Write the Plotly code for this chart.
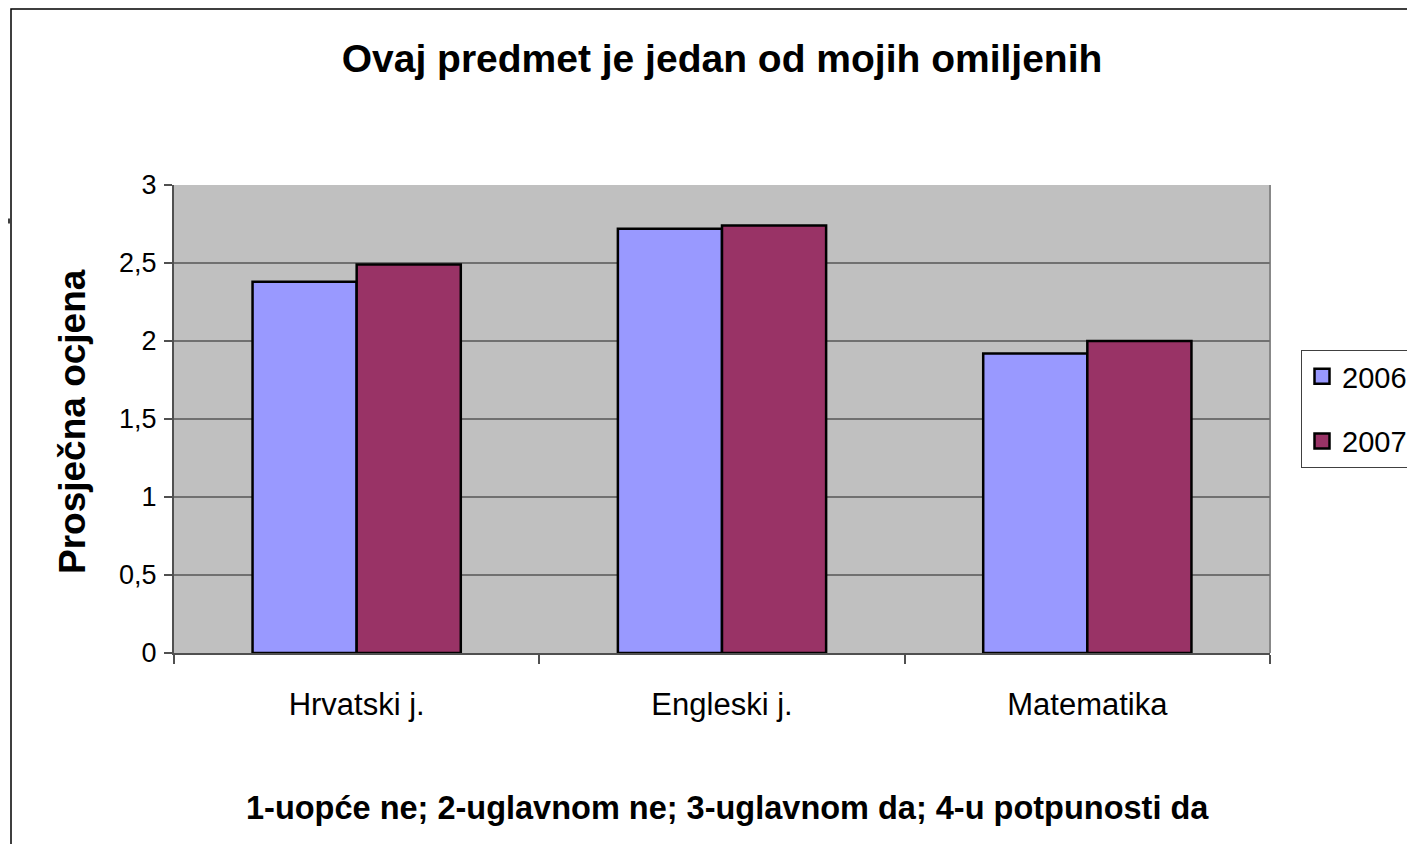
import plotly.graph_objects as go

categories = ["Hrvatski j.", "Engleski j.", "Matematika"]
series_names = ["2006", "2007"]
values_2006 = [2.38, 2.72, 1.92]
values_2007 = [2.49, 2.74, 2.00]
y_ticks = [0, 0.5, 1, 1.5, 2, 2.5, 3]
y_tick_labels = ["0", "0,5", "1", "1,5", "2", "2,5", "3"]

title_text = "Ovaj predmet je jedan od mojih omiljenih"
y_title = "Prosječna ocjena"
note_text = "1-uopće ne; 2-uglavnom ne; 3-uglavnom da; 4-u potpunosti da"

FONT = "Liberation Sans, Arial, sans-serif"
OFF = 8  # page body margin
W, H = 1415 - OFF, 844 - OFF
# plot area in reference pixel coordinates
PX0, PX1, PY0, PY1 = 174, 1270, 185, 653
L, R = PX0 - OFF, 1415 - PX1
T, B = PY0 - OFF, 844 - PY1
pw, ph = PX1 - PX0, PY1 - PY0

def px_x(x):
    return (x - PX0) / pw

def px_y(y):
    return (PY1 - y) / ph

fig = go.Figure()
colors = ["#9999FF", "#993366"]
for name, vals, col in zip(series_names, [values_2006, values_2007], colors):
    fig.add_trace(go.Bar(
        x=categories, y=vals, name=name, legendgroup=name, showlegend=False,
        marker=dict(color=col, line=dict(color="#000000", width=2.5)),
    ))
# legend entries with larger square swatches
for name, col in zip(series_names, colors):
    fig.add_trace(go.Scatter(
        x=[None], y=[None], name=name, legendgroup=name, mode="markers",
        marker=dict(symbol="square", size=15, color=col,
                    line=dict(color="#000000", width=2.5)),
    ))

fig.update_layout(
    width=W, height=H,
    margin=dict(l=L, r=R, t=T, b=B, autoexpand=False),
    paper_bgcolor="white",
    plot_bgcolor="#C0C0C0",
    barmode="group",
    bargap=0.43,
    bargroupgap=0,
    font=dict(family=FONT, color="#000000"),
    title=dict(text="<b>" + title_text + "</b>", x=(722 - OFF) / W, xanchor="center",
               y=1 - (58 - OFF) / H, yanchor="middle",
               font=dict(size=39, family=FONT, color="#000000")),
    legend=dict(x=px_x(1301), y=px_y(350), xanchor="left", yanchor="top",
                bordercolor="#404040", borderwidth=1, bgcolor="white",
                font=dict(size=29, family=FONT), traceorder="grouped",
                tracegroupgap=24, itemwidth=30),
    xaxis=dict(
        type="category",
        showgrid=False,
        showline=True, linecolor="#505050", linewidth=2,
        ticks="outside", tickson="boundaries", ticklen=9, tickcolor="#505050",
        tickwidth=1.5,
        tickfont=dict(size=31, family=FONT, color="#000000"),
        ticklabelstandoff=23,
    ),
    yaxis=dict(
        range=[0, 3],
        tickvals=y_ticks, ticktext=y_tick_labels,
        showgrid=True, gridcolor="#707070", gridwidth=2,
        showline=True, linecolor="#505050", linewidth=2,
        ticks="outside", ticklen=8, tickcolor="#505050", tickwidth=1.5,
        tickfont=dict(size=27, family=FONT, color="#000000"),
        ticklabelstandoff=2,
        zeroline=False,
    ),
    annotations=[
        dict(text="<b>" + y_title + "</b>", xref="paper", yref="paper",
             x=px_x(72), y=px_y(422), xanchor="center", yanchor="middle",
             textangle=-90, showarrow=False,
             font=dict(size=37, family=FONT, color="#000000")),
        dict(text="<b>" + note_text + "</b>", xref="paper", yref="paper",
             x=px_x(727), y=px_y(808), xanchor="center", yanchor="middle",
             showarrow=False,
             font=dict(size=32.5, family=FONT, color="#000000")),
    ],
    shapes=[
        # outer chart border
        dict(type="rect", xref="paper", yref="paper",
             x0=px_x(11), x1=px_x(1500), y0=px_y(900), y1=px_y(9),
             line=dict(color="#000000", width=1.5), layer="below"),
        # small mark at left edge
        dict(type="line", xref="paper", yref="paper",
             x0=px_x(0), x1=px_x(10), y0=px_y(221), y1=px_y(221),
             line=dict(color="#404040", width=5)),
        # plot area right border
        dict(type="line", xref="paper", yref="paper",
             x0=1, x1=1, y0=0, y1=1,
             line=dict(color="#888888", width=2), layer="below"),
    ],
)

fig.write_html("out.html")
